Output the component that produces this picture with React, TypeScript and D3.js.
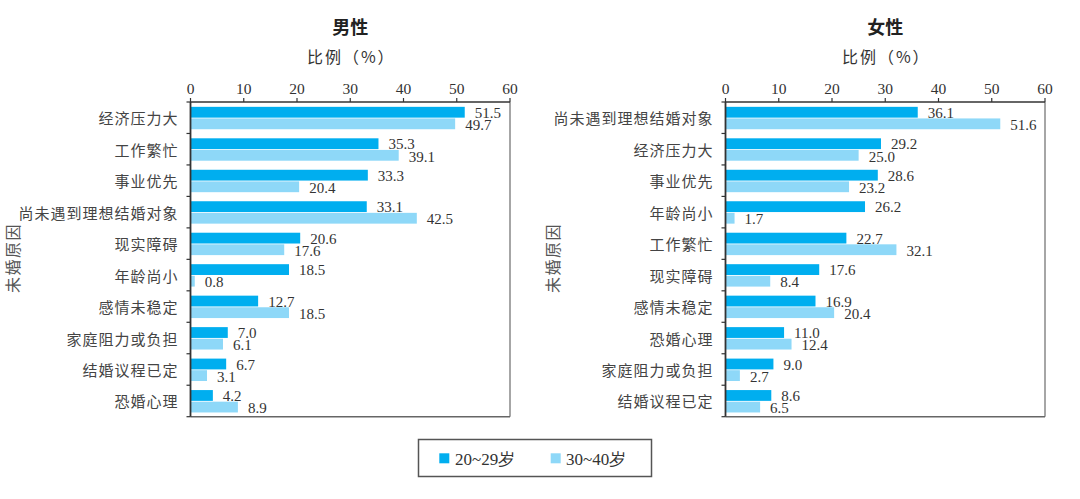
import React from "react";
import * as d3 from "d3";

const maleCategories = ["经济压力大", "工作繁忙", "事业优先", "尚未遇到理想结婚对象", "现实障碍", "年龄尚小", "感情未稳定", "家庭阻力或负担", "结婚议程已定", "恐婚心理"];
const male2029 = [51.5, 35.3, 33.3, 33.1, 20.6, 18.5, 12.7, 7.0, 6.7, 4.2];
const male3040 = [49.7, 39.1, 20.4, 42.5, 17.6, 0.8, 18.5, 6.1, 3.1, 8.9];

const femaleCategories = ["尚未遇到理想结婚对象", "经济压力大", "事业优先", "年龄尚小", "工作繁忙", "现实障碍", "感情未稳定", "恐婚心理", "家庭阻力或负担", "结婚议程已定"];
const female2029 = [36.1, 29.2, 28.6, 26.2, 22.7, 17.6, 16.9, 11.0, 9.0, 8.6];
const female3040 = [51.6, 25.0, 23.2, 1.7, 32.1, 8.4, 20.4, 12.4, 2.7, 6.5];

const xTicks = [0, 10, 20, 30, 40, 50, 60];
const seriesNames = ["20~29岁", "30~40岁"];
const panelTitles = ["男性", "女性"];
const xAxisTitle = "比例（%）";
const yAxisTitle = "未婚原因";

const C1 = "#00aeef";
const C2 = "#8ed8f8";
const TXT = "#333";
const SERIF = "'Liberation Serif', 'DejaVu Serif', serif";
const CJK = "'Noto Sans CJK SC', 'Noto Sans', sans-serif";

const top = 102;
const bottom = 416.7;

function Panel({ x0, x1, yTitleX, title, cats, v1, v2 }: any) {
  const x = d3.scaleLinear().domain([0, 60]).range([x0, x1]);
  const y = d3.scaleBand<string>().domain(cats).range([top, bottom]).paddingInner(0).paddingOuter(0);
  const bw = y.bandwidth();
  const barH = 10.8;
  const gap = 0.8;
  const offset = (bw - (barH * 2 + gap)) / 2 + 0.3;
  const cx = (x0 + x1) / 2;
  const boundaries = cats.map((c: string) => y(c)!).concat([bottom]);
  return (
    <g>
      <text x={cx} y={34} textAnchor="middle" fontFamily={CJK} fontWeight={700} fontSize={18} fill="#222">{title}</text>
      <text x={cx + 1} y={63} textAnchor="middle" fontFamily={CJK} fontSize={16} letterSpacing={2} fill={TXT}>{xAxisTitle}</text>
      <text transform={`translate(${yTitleX},258) rotate(-90)`} textAnchor="middle" dominantBaseline="central" fontFamily={CJK} fontSize={16} letterSpacing={1.5} fill="#555">{yAxisTitle}</text>
      {xTicks.map((t) => (
        <g key={t}>
          <line x1={x(t)} x2={x(t)} y1={top} y2={top - 4} stroke={TXT} strokeWidth={1.2} />
          <text x={x(t)} y={94} textAnchor="middle" fontFamily={SERIF} fontSize={15.5} fill={TXT}>{t}</text>
        </g>
      ))}
      {cats.map((c: string, i: number) => {
        const yb = y(c)!;
        const b1y = yb + offset;
        const b2y = b1y + barH + gap;
        return (
          <g key={c}>
            <rect x={x(0)} y={b1y} width={x(v1[i]) - x(0)} height={barH} fill={C1} />
            <rect x={x(0)} y={b2y} width={x(v2[i]) - x(0)} height={barH} fill={C2} />
            <text x={x(v1[i]) + 10} y={b1y + barH + 0.3} fontFamily={SERIF} fontSize={15} fill={TXT}>{v1[i].toFixed(1)}</text>
            <text x={x(v2[i]) + 10} y={b2y + barH + 0.8} fontFamily={SERIF} fontSize={15} fill={TXT}>{v2[i].toFixed(1)}</text>
            <text x={x0 - 12} y={yb + bw / 2} textAnchor="end" dominantBaseline="central" fontFamily={CJK} fontSize={15} letterSpacing={1} fill="#444">{c}</text>
          </g>
        );
      })}
      {boundaries.map((b: number, i: number) => (
        <line key={i} x1={x0} x2={x0 - 4} y1={b} y2={b} stroke={TXT} strokeWidth={1.2} />
      ))}
      <line x1={x1} x2={x1} y1={top} y2={bottom} stroke="#888" strokeWidth={1.5} />
      <line x1={x0} x2={x1} y1={bottom} y2={bottom} stroke="#666" strokeWidth={1.5} />
      <line x1={x0} x2={x1} y1={top} y2={top} stroke={TXT} strokeWidth={1.5} />
      <line x1={x0} x2={x0} y1={top} y2={bottom} stroke={TXT} strokeWidth={1.8} />
    </g>
  );
}

export default function App() {
  return (
    <svg width={1080} height={499} style={{ position: "absolute", left: 0, top: 0, background: "#fff" }}>
      <rect width={1080} height={499} fill="#fff" />
      <Panel x0={190.5} x1={510} yTitleX={11.5} title={panelTitles[0]} cats={maleCategories} v1={male2029} v2={male3040} />
      <Panel x0={725.5} x1={1045} yTitleX={551.5} title={panelTitles[1]} cats={femaleCategories} v1={female2029} v2={female3040} />
      <rect x={418.5} y={439.5} width={233} height={37} fill="#fff" stroke="#555" strokeWidth={1.5} />
      <rect x={439.3} y={453.3} width={10} height={10} fill={C1} />
      <text x={455} y={464.5} fontFamily={SERIF} fontSize={17} fill={TXT}>{seriesNames[0]}</text>
      <rect x={550.7} y={453.3} width={10} height={10} fill={C2} />
      <text x={566} y={464.5} fontFamily={SERIF} fontSize={17} fill={TXT}>{seriesNames[1]}</text>
    </svg>
  );
}
